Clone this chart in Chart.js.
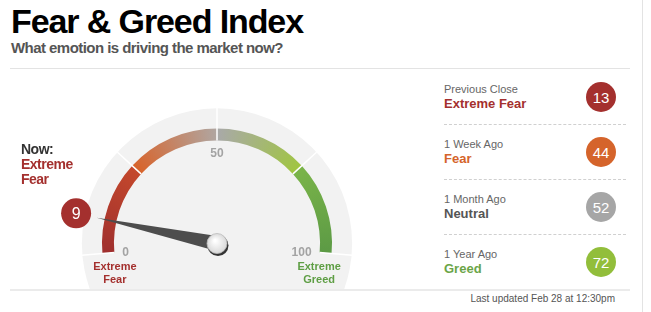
<!DOCTYPE html>
<html>
<head>
<meta charset="utf-8">
<title>Fear &amp; Greed Index</title>
<script src="https://cdn.jsdelivr.net/npm/chart.js@4.4.1/dist/chart.umd.min.js"></script>
<style>
  body { margin: 0; width: 651px; height: 312px; overflow: hidden; background: #fff; position: relative;
         font-family: "Liberation Sans", Arial, Helvetica, sans-serif; }
  .abs { position: absolute; white-space: nowrap; }
  #title { left: 11px; top: 4px; font-size: 34px; line-height: 34px; font-weight: bold; letter-spacing: -1.1px; color: #000; }
  #subtitle { left: 11px; top: 40px; font-size: 15px; line-height: 15px; font-weight: bold; letter-spacing: -0.55px; color: #555; }
  #rule-top { left: 10px; top: 68px; width: 620px; height: 1px; background: #e3e3e3; }
  #rule-bottom { left: 10px; top: 289px; width: 620px; height: 2px; background: #ebebeb; }
  #rule-right { left: 642px; top: 0; width: 1px; height: 312px; background: #e3e3e3; }
  #now { left: 21px; top: 142px; font-size: 14px; line-height: 15px; font-weight: bold; letter-spacing: -0.5px; color: #333; }
  #gauge { position: absolute; left: 0; top: 93px; }
  .row-label { font-size: 11px; line-height: 11px; color: #666; }
  .row-rating { font-size: 13px; line-height: 13px; font-weight: bold; }
  .badge { width: 30px; height: 30px; border-radius: 50%; color: #fff; font-size: 15px; line-height: 31px; text-align: center; }
  .dash { left: 444px; width: 182px; height: 0; border-top: 1px dashed #d0d0d0; }
  #updated { right: 36px; top: 294px; font-size: 10px; line-height: 10px; color: #555; }
</style>
</head>
<body>
<canvas id="gauge" width="434" height="196"></canvas>
<div class="abs" id="title">Fear &amp; Greed Index</div>
<div class="abs" id="subtitle">What emotion is driving the market now?</div>
<div class="abs" id="rule-top"></div>
<div class="abs" id="rule-bottom"></div>
<div class="abs" id="rule-right"></div>
<div class="abs" id="now"></div>
<div id="panel"></div>
<div class="abs" id="updated">Last updated Feb 28 at 12:30pm</div>

<script>
// gauge data
const segmentSizes = [25, 25, 25, 25];
const tickValues = [0, 50, 100];
const tickLabels = ['0', '50', '100'];
const endLabels = ['Extreme Fear', 'Extreme Greed'];
const nowValue = 9;
const nowRating = 'Extreme Fear';

// history panel data
const historyLabels = ['Previous Close', '1 Week Ago', '1 Month Ago', '1 Year Ago'];
const historyValues = [13, 44, 52, 72];
const historyRatings = ['Extreme Fear', 'Fear', 'Neutral', 'Greed'];

const ratingColors = {
    'Extreme Fear': '#a4302e',
    'Fear': '#d5642b',
    'Neutral': '#a6a6a6',
    'Greed': '#92be3b',
    'Extreme Greed': '#5e9e44'
};
const ratingTextColors = { 'Neutral': '#555', 'Greed': '#6ba547' };

// colour stops along the arc (value, colour)
const arcStops = [
    [0, '#9f2f2e'], [24.9, '#c4482c'], [25.1, '#d8632a'], [49.9, '#b0a6a1'],
    [50.1, '#a9a9a9'], [74.9, '#a0c541'], [75.1, '#7ab449'], [100, '#5c9a45']
];

const totalValue = segmentSizes.reduce((a, b) => a + b, 0);
const FONT = '"Liberation Sans", Arial, sans-serif';

// "Now:" block
const nowEl = document.getElementById('now');
nowEl.innerHTML = 'Now:<br><span style="color:' + ratingColors[nowRating] + '">' +
    nowRating.split(' ').join('<br>') + '</span>';

// history rows
const panel = document.getElementById('panel');
historyLabels.forEach((label, i) => {
    const y = 55 * i;
    const rating = historyRatings[i];
    panel.insertAdjacentHTML('beforeend',
        '<div class="abs row-label" style="left:444px;top:' + (84 + y) + 'px">' + label + '</div>' +
        '<div class="abs row-rating" style="left:444px;top:' + (97 + y) + 'px;color:' +
            (ratingTextColors[rating] || ratingColors[rating]) + '">' + rating + '</div>' +
        '<div class="abs badge" style="left:586px;top:' + (82 + y) + 'px;background:' +
            ratingColors[rating] + '">' + historyValues[i] + '</div>' +
        (i < historyLabels.length - 1 ? '<div class="abs dash" style="top:' + (124 + y) + 'px"></div>' : ''));
});

let arcGradient = null;
function gaugeFill(context) {
    const chart = context.chart;
    const area = chart.chartArea;
    const ctrl = chart.getDatasetMeta(0).controller;
    if (!area || !Number.isFinite(ctrl.offsetY)) return '#bbb';
    if (arcGradient) return arcGradient;
    const cx = (area.left + area.right) / 2 + ctrl.offsetX;
    const cy = (area.top + area.bottom) / 2 + ctrl.offsetY;
    const start = (chart.options.rotation - 90) * Math.PI / 180;
    const span = chart.options.circumference / 360;
    arcGradient = chart.ctx.createConicGradient(start, cx, cy);
    arcStops.forEach(([v, c]) => arcGradient.addColorStop(v / totalValue * span, c));
    return arcGradient;
}

const gaugeDecor = {
    id: 'gaugeDecor',
    beforeDatasetsDraw(chart) {
        const arc = chart.getDatasetMeta(0).data[0];
        const ctx = chart.ctx;
        ctx.save();
        ctx.fillStyle = '#f2f2f2';
        ctx.beginPath();
        ctx.arc(arc.x, arc.y, arc.outerRadius * 1.175, 0, Math.PI * 2);
        ctx.fill();
        ctx.restore();
    },
    afterDatasetsDraw(chart) {
        const arcs = chart.getDatasetMeta(0).data;
        const first = arcs[0];
        const last = arcs[arcs.length - 1];
        const cx = first.x, cy = first.y;
        const rOut = first.outerRadius, rIn = first.innerRadius;
        const angleOf = v => first.startAngle + (last.endAngle - first.startAngle) * v / totalValue;
        const ctx = chart.ctx;
        ctx.save();

        // white separators between zones
        ctx.strokeStyle = '#fff';
        ctx.lineWidth = 1.5;
        arcs.map(a => a.startAngle).concat(last.endAngle).forEach(a => {
            ctx.beginPath();
            ctx.moveTo(cx + Math.cos(a) * rIn, cy + Math.sin(a) * rIn);
            ctx.lineTo(cx + Math.cos(a) * rOut * 1.18, cy + Math.sin(a) * rOut * 1.18);
            ctx.stroke();
        });

        // tick labels
        ctx.fillStyle = '#a3a3a3';
        ctx.font = 'bold 12px ' + FONT;
        ctx.textBaseline = 'alphabetic';
        tickValues.forEach((v, i) => {
            const a = angleOf(v);
            const c = Math.cos(a), s = Math.sin(a);
            ctx.textAlign = c < -0.5 ? 'left' : (c > 0.5 ? 'right' : 'center');
            ctx.fillText(tickLabels[i], cx + c * 95, cy + s * 95 + 4.3 * (1 - s));
        });

        // zone names under both ends
        ctx.font = 'bold 11px ' + FONT;
        ctx.textAlign = 'center';
        [0, totalValue].forEach((v, i) => {
            const x = cx + Math.cos(angleOf(v)) * 102.5;
            ctx.fillStyle = ratingColors[endLabels[i]];
            endLabels[i].split(' ').forEach((word, j) => ctx.fillText(word, x, cy + 27 + j * 13));
        });

        // needle
        const a = angleOf(nowValue);
        const ux = Math.cos(a), uy = Math.sin(a);
        const tip = rOut * 1.07;
        ctx.fillStyle = '#4d4d4d';
        ctx.beginPath();
        ctx.moveTo(cx + ux * tip, cy + uy * tip);
        ctx.lineTo(cx - uy * 7.5, cy + ux * 7.5);
        ctx.lineTo(cx + uy * 7.5, cy - ux * 7.5);
        ctx.closePath();
        ctx.fill();

        // knob
        ctx.fillStyle = '#333';
        ctx.beginPath();
        ctx.arc(cx + 1, cy + 2, 10.5, 0, Math.PI * 2);
        ctx.fill();
        const g = ctx.createRadialGradient(cx - 2, cy - 3, 1, cx, cy, 10);
        g.addColorStop(0, '#ffffff');
        g.addColorStop(1, '#d9d9d9');
        ctx.fillStyle = g;
        ctx.strokeStyle = '#bdbdbd';
        ctx.lineWidth = 0.8;
        ctx.beginPath();
        ctx.arc(cx, cy, 10, 0, Math.PI * 2);
        ctx.fill();
        ctx.stroke();

        // current value badge along the needle
        const bx = cx + ux * rOut * 1.253, by = cy + uy * rOut * 1.253;
        ctx.fillStyle = ratingColors[nowRating];
        ctx.beginPath();
        ctx.arc(bx, by, 15, 0, Math.PI * 2);
        ctx.fill();
        ctx.fillStyle = '#fff';
        ctx.font = '16px ' + FONT;
        ctx.textAlign = 'center';
        ctx.textBaseline = 'middle';
        ctx.fillText(String(nowValue), bx, by + 1);
        ctx.restore();
    }
};

const gauge = new Chart(document.getElementById('gauge'), {
    type: 'doughnut',
    data: {
        labels: ['0-25', '25-50', '50-75', '75-100'],
        datasets: [{
            data: segmentSizes,
            backgroundColor: gaugeFill,
            borderWidth: 0
        }]
    },
    options: {
        responsive: false,
        animation: false,
        events: [],
        rotation: -95,
        circumference: 190,
        radius: 115,
        cutout: '89.6%',
        layout: { padding: 0 },
        plugins: { legend: { display: false }, tooltip: { enabled: false } }
    },
    plugins: [gaugeDecor]
});
</script>
</body>
</html>
